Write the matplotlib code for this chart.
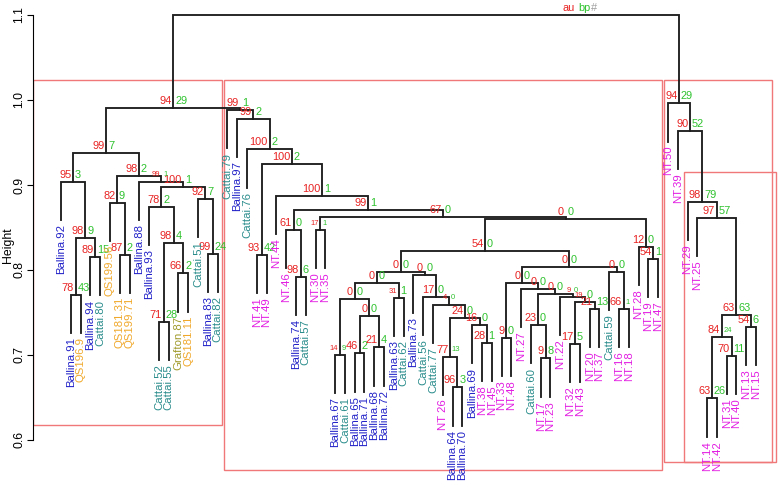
import matplotlib.pyplot as plt
from matplotlib.patches import Rectangle

plt.rcParams['font.family'] = ['Liberation Sans', 'DejaVu Sans']

# ---------- data ----------
leaves = [
    "Ballina.92", "Ballina.91", "QS196.9", "Ballina.94", "Cattai.80", "QS199.56", "QS181.31", "QS199.71",
    "Ballina.88", "Ballina.93", "Cattai.52", "Cattai.55", "Grafton.87", "QS181.11", "Cattai.51", "Ballina.83",
    "Cattai.82", "Cattai.79", "Ballina.97", "Cattai.76", "NT.41", "NT.49", "NT.44", "NT.46",
    "Ballina.74", "Cattai.57", "NT.30", "NT.35", "Ballina.67", "Cattai.61", "Ballina.65", "Ballina.71",
    "Ballina.68", "Ballina.72", "Ballina.63", "Cattai.62", "Ballina.73", "Cattai.56", "Cattai.77", "NT 26",
    "Ballina.64", "Ballina.70", "Ballina.69", "NT.38", "NT.45", "NT.33", "NT.48", "NT.27",
    "Cattai.60", "NT.17", "NT.23", "NT.22", "NT.32", "NT.43", "NT.20", "NT.37",
    "Cattai.59", "NT.16", "NT.18", "NT.28", "NT.19", "NT.47", "NT.50", "NT.39",
    "NT.29", "NT.25", "NT.14", "NT.42", "NT.31", "NT.40", "NT.13", "NT.15",
]

# merge table: node, left child, right child
merges = [
    ("L1", "Ballina.91", "QS196.9"), ("L2", "Ballina.94", "Cattai.80"), ("L3", "L1", "L2"),
    ("L4", "Ballina.92", "L3"), ("L5", "QS181.31", "QS199.71"), ("L6", "QS199.56", "L5"),
    ("L7", "Cattai.52", "Cattai.55"), ("L8", "Grafton.87", "QS181.11"), ("L9", "L7", "L8"),
    ("L10", "Ballina.93", "L9"), ("L11", "Ballina.83", "Cattai.82"), ("L12", "Cattai.51", "L11"),
    ("L13", "L10", "L12"), ("L14", "Ballina.88", "L13"), ("L15", "L6", "L14"), ("L16", "L4", "L15"),
    ("M1", "NT.41", "NT.49"), ("M2", "Ballina.74", "Cattai.57"), ("M3", "NT.46", "M2"),
    ("M4", "NT.30", "NT.35"), ("M5", "Ballina.67", "Cattai.61"), ("M6", "Ballina.65", "Ballina.71"),
    ("M7", "Ballina.68", "Ballina.72"), ("M8", "M6", "M7"), ("M9", "M5", "M8"),
    ("M10", "Ballina.63", "Cattai.62"), ("M11", "M9", "M10"), ("M12", "Ballina.64", "Ballina.70"),
    ("M13", "NT 26", "M12"), ("M14", "NT.38", "NT.45"), ("M15", "Ballina.69", "M14"),
    ("M16", "M13", "M15"), ("M17", "Cattai.77", "M16"), ("M18", "Cattai.56", "M17"),
    ("M19", "Ballina.73", "M18"), ("M20", "M11", "M19"), ("M21", "NT.33", "NT.48"),
    ("M22", "NT.17", "NT.23"), ("M23", "Cattai.60", "M22"), ("M24", "NT.32", "NT.43"),
    ("M25", "NT.20", "NT.37"), ("M26", "M24", "M25"), ("M27", "NT.22", "M26"),
    ("M28", "M23", "M27"), ("M29", "NT.27", "M28"), ("M30", "M21", "M29"),
    ("M31", "NT.16", "NT.18"), ("M32", "Cattai.59", "M31"), ("M33", "M30", "M32"),
    ("M34", "M20", "M33"), ("M35", "NT.19", "NT.47"), ("M36", "NT.28", "M35"),
    ("M37", "M34", "M36"), ("M38", "M4", "M37"), ("M39", "M3", "M38"), ("M40", "NT.44", "M39"),
    ("M41", "M1", "M40"), ("M42", "Cattai.76", "M41"), ("M43", "Ballina.97", "M42"),
    ("M44", "Cattai.79", "M43"), ("M45", "L16", "M44"),
    ("R1", "NT.14", "NT.42"), ("R2", "NT.31", "NT.40"), ("R3", "R1", "R2"), ("R4", "NT.13", "NT.15"),
    ("R5", "R3", "R4"), ("R6", "NT.25", "R5"), ("R7", "NT.29", "R6"), ("R8", "NT.39", "R7"),
    ("R9", "NT.50", "R8"), ("root", "M45", "R9"),
]

heights = [
    0.771, 0.815, 0.838, 0.904, 0.818, 0.879, 0.739, 0.796, 0.832, 0.874, 0.819, 0.884, 0.898, 0.904, 0.911, 0.938,
    0.818, 0.792, 0.847, 0.847, 0.700, 0.702, 0.709, 0.746, 0.766, 0.767, 0.785, 0.662, 0.698, 0.714, 0.735,
    0.744, 0.759, 0.768, 0.794, 0.798, 0.720, 0.696, 0.735, 0.713, 0.754, 0.762, 0.768, 0.772, 0.778, 0.785,
    0.754, 0.798, 0.804, 0.822, 0.813, 0.827, 0.860, 0.862, 0.871, 0.887, 0.925, 0.942, 0.978, 0.988, 0.991,
    0.649, 0.699, 0.721, 0.733, 0.747, 0.861, 0.880, 0.964, 0.996, 1.100,
]

au = [
    78, 89, 98, 95, 87, 82, 71, 66, 98, 78, 99, 92, 100, 99, 98, 99,
    93, 98, 61, 17, 14, 46, 21, 0, 0, 31, 0, 96, 77, 28, 16,
    24, 4, 17, 0, 0, 9, 9, 23, 17, 21, 19, 9, 0, 0, 0,
    66, 0, 0, 54, 54, 12, 0, 67, 99, 100, 100, 100, 99, 99, 94,
    63, 70, 84, 54, 63, 97, 98, 90, 94, "au",
]

bp = [
    43, 15, 9, 3, 2, 9, 28, 2, 4, 2, 24, 7, 1, 1, 2, 7,
    42, 6, 0, 1, 9, 2, 4, 0, 0, 1, 0, 3, 13, 1, 0,
    0, 0, 0, 0, 0, 0, 8, 0, 5, 13, 0, 0, 0, 0, 0,
    1, 0, 0, 0, 1, 0, 0, 0, 1, 1, 2, 2, 2, 1, 29,
    26, 11, 24, 6, 63, 57, 79, 52, 29, "bp",
]

# nodes whose au / bp values are printed in a smaller font
small_au = {"L14", "M4", "M5", "M10", "M17", "M26", "M27"}
small_bp = {"L14", "M4", "M5", "M13", "M17", "M27", "M31", "R3"}

# highlighted clusters: first leaf, last leaf, bottom, top
boxes = [
    ("Ballina.92", "Cattai.82", 0.618, 1.023),
    ("Cattai.79", "NT.47", 0.565, 1.023),
    ("NT.50", "NT.15", 0.574, 1.023),
    ("NT.29", "NT.15", 0.574, 0.915),
]

group_colors = {
    "Ballina": "#2222c8",
    "Cattai": "#2a8c8c",
    "QS": "#f0a82a",
    "Grafton": "#a09a2a",
    "NT": "#e21ee2",
}
AU_COL = "#e82222"
BP_COL = "#2ec22e"
HANG = 0.045
# the au / bp key above the root sits to the right of the root node
KEY_SHIFT = 108  # points


def main():
    fig = plt.figure(figsize=(7.78, 4.87), dpi=100)
    ax = fig.add_axes([33 / 778, 0, 745 / 778, 1])

    xpos = {name: i for i, name in enumerate(leaves)}
    ypos = {}

    for (node, left, right), h, a, b in zip(merges, heights, au, bp):
        xl, xr = xpos[left], xpos[right]
        yl = ypos.get(left, h - HANG)
        yr = ypos.get(right, h - HANG)
        ax.plot([xl, xl, xr, xr], [yl, h, h, yr], color='#1e1e1e', lw=1.35,
                solid_joinstyle='miter', zorder=2)
        xpos[node] = (xl + xr) / 2
        ypos[node] = h

        x = xpos[node]
        shift = KEY_SHIFT if node == "root" else 0
        ax.annotate(str(a), (x, h), xytext=(shift - 1.2, 5), textcoords='offset points',
                    ha='right', va='center', color=AU_COL,
                    fontsize=5.5 if node in small_au else 7.9)
        ax.annotate(str(b), (x, h), xytext=(shift + 1.2, 5), textcoords='offset points',
                    ha='left', va='center', color=BP_COL,
                    fontsize=5.5 if node in small_bp else 7.9)
        if node == "root":
            ax.annotate("#", (x, h), xytext=(shift + 11, 5), textcoords='offset points',
                        ha='left', va='center', color='#9e9e9e', fontsize=7.9)

    # leaf labels
    parent_h = {}
    for (node, left, right), h in zip(merges, heights):
        for c in (left, right):
            if c in leaves:
                parent_h[c] = h
    for name in leaves:
        grp = name.split('.')[0].split(' ')[0].rstrip('0123456789')
        col = group_colors.get(grp, 'black')
        ax.annotate(name, (xpos[name], parent_h[name] - HANG), xytext=(0, -3),
                    textcoords='offset points', rotation=90, ha='center', va='top',
                    color=col, fontsize=8.2)

    # cluster boxes
    for first, last, bottom, top in boxes:
        x0 = xpos[first] - 0.4
        x1 = xpos[last] + 0.4
        if first == leaves[0]:
            x0 = -2.85
        if last == leaves[-1]:
            x1 = xpos[last] + (1.6 if top > 1 else 2.0)
        ax.add_patch(Rectangle((x0, bottom), x1 - x0, top - bottom, fill=False,
                               edgecolor='#f07878', lw=1.0, zorder=1))

    ax.set_xlim(-2.86, 73.24)
    ax.set_ylim(0.5447, 1.1176)
    ax.set_xticks([])
    for side in ('top', 'right', 'bottom'):
        ax.spines[side].set_visible(False)
    ax.spines['left'].set_bounds(0.6, 1.1)
    ax.spines['left'].set_color('black')
    ax.set_yticks([0.6, 0.7, 0.8, 0.9, 1.0, 1.1])
    ax.set_yticklabels(['0.6', '0.7', '0.8', '0.9', '1.0', '1.1'])
    ax.tick_params(axis='y', length=4.5, pad=1, labelsize=8.8)
    for lab in ax.get_yticklabels():
        lab.set_rotation(90)
        lab.set_va('center')
    ax.patch.set_visible(False)

    fig.text(8 / 778, 1 - 245 / 487, 'Height', rotation=90, ha='center', va='center',
             fontsize=8.8)

    fig.savefig('out.png', dpi=100)
    plt.close(fig)


if __name__ == '__main__':
    main()
